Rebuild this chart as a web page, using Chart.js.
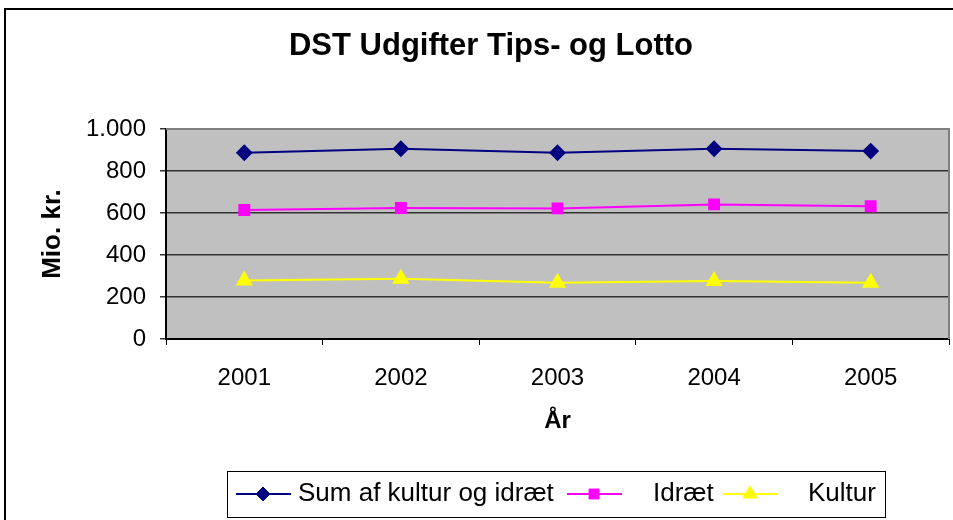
<!DOCTYPE html>
<html><head><meta charset="utf-8">
<script src="https://cdn.jsdelivr.net/npm/chart.js@4"></script>
<style>html,body{margin:0;padding:0;background:#fff}#w{width:953px;height:520px;position:relative}</style>
</head><body><div id="w"><canvas id="c" width="953" height="520"></canvas></div>
<script>
const years = ['2001','2002','2003','2004','2005'];
const sumValues = [887, 906, 887, 906, 895];
const idraetValues = [614, 624, 622, 641, 632];
const kulturValues = [278, 287, 268, 276, 268];
const seriesNames = ['Sum af kultur og idræt', 'Idræt', 'Kultur'];
const yTicks = [0, 200, 400, 600, 800, 1000];

const FONT = '"Liberation Sans", Arial, sans-serif';

const bgPlugin = {
  id: 'bg',
  beforeDraw(chart) {
    const {ctx, chartArea: a} = chart;
    ctx.save();
    ctx.fillStyle = '#fff';
    ctx.fillRect(0, 0, chart.width, chart.height);
    ctx.strokeStyle = '#000';
    ctx.lineWidth = 2;
    ctx.strokeRect(5, 9, 1000, 600);
    ctx.fillStyle = '#C0C0C0';
    ctx.fillRect(a.left, a.top, a.right - a.left, a.bottom - a.top);
    ctx.restore();
  },
  afterDraw(chart) {
    const {ctx, chartArea: a} = chart;
    ctx.save();
    // plot border top/right
    ctx.strokeStyle = '#808080';
    ctx.lineWidth = 2;
    ctx.beginPath();
    ctx.moveTo(a.left, a.top);
    ctx.lineTo(a.right, a.top);
    ctx.lineTo(a.right, a.bottom);
    ctx.stroke();
    // title
    ctx.fillStyle = '#000';
    ctx.font = 'bold 31px ' + FONT;
    ctx.textAlign = 'center';
    ctx.textBaseline = 'middle';
    ctx.fillText('DST Udgifter Tips- og Lotto', 491, 46);
    // legend box
    const lx = 227, ly = 471, lw = 658, lh = 46;
    ctx.fillStyle = '#fff';
    ctx.fillRect(lx, ly, lw, lh);
    ctx.strokeStyle = '#000';
    ctx.lineWidth = 1;
    ctx.strokeRect(lx + 0.5, ly + 0.5, lw, lh);
    const items = [
      {x: 236, tx: 298},
      {x: 567, tx: 653},
      {x: 723, tx: 808}
    ];
    const cy = 494;
    chart.data.datasets.forEach((ds, i) => {
      const it = items[i];
      ctx.strokeStyle = ds.borderColor;
      ctx.lineWidth = 2;
      ctx.beginPath();
      ctx.moveTo(it.x, cy);
      ctx.lineTo(it.x + 55, cy);
      ctx.stroke();
      ctx.fillStyle = ds.pointBackgroundColor;
      ctx.strokeStyle = ds.pointBorderColor;
      ctx.lineWidth = 1;
      Chart.helpers.drawPoint(ctx, {pointStyle: ds.pointStyle, radius: ds.pointRadius, borderWidth: 1, rotation: 0}, it.x + 27, cy);
      ctx.fillStyle = '#000';
      ctx.font = '26px ' + FONT;
      ctx.textAlign = 'left';
      ctx.textBaseline = 'middle';
      ctx.fillText(ds.label, it.tx, cy);
    });
    ctx.restore();
  }
};

new Chart(document.getElementById('c'), {
  type: 'line',
  data: {
    labels: years,
    datasets: [
      {label: seriesNames[0], data: sumValues, borderColor: '#000080', backgroundColor: '#000080',
       pointBackgroundColor: '#000080', pointBorderColor: '#000080', pointStyle: 'rectRot', pointRadius: 7, borderWidth: 2},
      {label: seriesNames[1], data: idraetValues, borderColor: '#FF00FF', backgroundColor: '#FF00FF',
       pointBackgroundColor: '#FF00FF', pointBorderColor: '#FF00FF', pointStyle: 'rect', pointRadius: 7, borderWidth: 2},
      {label: seriesNames[2], data: kulturValues, borderColor: '#FFFF00', backgroundColor: '#FFFF00',
       pointBackgroundColor: '#FFFF00', pointBorderColor: '#FFFF00', pointStyle: 'triangle', pointRadius: 8, borderWidth: 2}
    ]
  },
  options: {
    responsive: false,
    animation: false,
    devicePixelRatio: 1,
    layout: {autoPadding: false, padding: {top: 129, right: 4, left: 37, bottom: 84}},
    plugins: {legend: {display: false}, title: {display: false}, tooltip: {enabled: false}},
    elements: {line: {tension: 0}},
    scales: {
      x: {
        offset: true,
        grid: {offset: true, drawOnChartArea: false, drawTicks: true, tickLength: 6, color: '#000', lineWidth: 1},
        border: {color: '#000', width: 2},
        ticks: {color: '#000', font: {family: FONT, size: 24}, padding: 19, maxRotation: 0},
        title: {display: true, text: 'År', color: '#000', font: {family: FONT, size: 24, weight: 'bold'}, padding: 0},
        afterFit(s) { s.height = 97; }
      },
      y: {
        min: 0, max: 1000,
        afterBuildTicks(s) { s.ticks = yTicks.map(v => ({value: v})); },
        grid: {color: '#333', lineWidth: 1.5, drawTicks: true, tickLength: 6},
        border: {color: '#000', width: 2},
        ticks: {color: '#000', font: {family: FONT, size: 24}, padding: 14,
          callback: v => v.toLocaleString('da-DK')},
        title: {display: true, text: 'Mio. kr.', color: '#000', font: {family: FONT, size: 26, weight: 'bold'}, padding: 0},
        afterFit(s) { s.width = 166 - 37; }
      }
    }
  },
  plugins: [bgPlugin]
});
</script></body></html>
